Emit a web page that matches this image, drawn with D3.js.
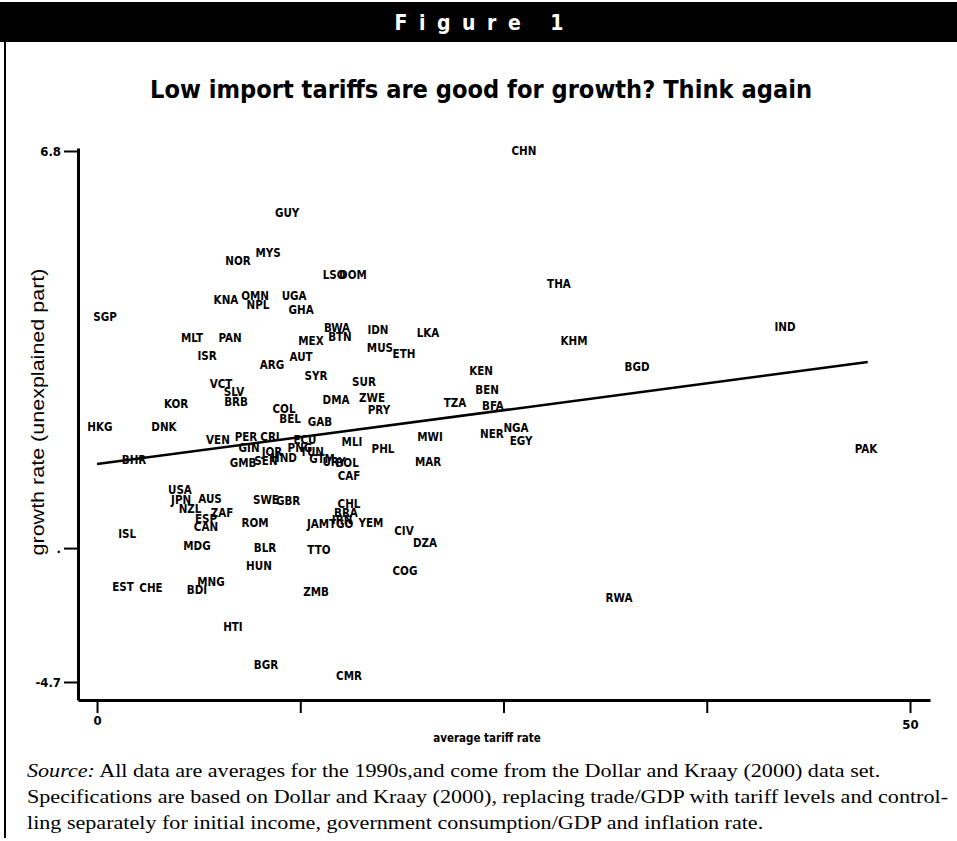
<!DOCTYPE html>
<style>
    body { margin: 0; background: #fff; }
    .lbl { font-family: "DejaVu Sans", sans-serif; font-stretch: condensed; font-weight: bold; font-size: 11.5px; }
    .axis text { font-family: "DejaVu Sans", sans-serif; font-stretch: condensed; font-weight: bold; font-size: 13px; fill: #000; }
</style>
<svg width="957" height="841"></svg>
<script src="https://d3js.org/d3.v7.min.js"></script>
<script>

    // country codes, average tariff rate (%), unexplained growth rate
    var codes = ["CHN","GUY","NOR","MYS","LSO","DOM","THA","KNA","OMN","NPL","UGA","GHA","SGP","MLT","PAN",
        "BWA","BTN","MEX","IDN","LKA","KHM","IND","MUS","ETH","ISR","ARG","AUT","BGD","SYR","KEN","SUR","BEN",
        "VCT","SLV","BRB","KOR","DMA","ZWE","PRY","TZA","BFA","COL","BEL","GAB","HKG","DNK","MLI","PHL","MWI",
        "NER","NGA","EGY","MAR","PAK","VEN","PER","CRI","GIN","JOR","GMB","SEN","HND","ECU","PNG","TUN","GTM",
        "URY","BOL","BHR","CAF","USA","JPN","NZL","AUS","ZAF","ESP","CAN","SWE","GBR","CHL","BRA","IRN","JAM",
        "TGO","YEM","CIV","DZA","ROM","ISL","MDG","BLR","TTO","HUN","COG","EST","CHE","BDI","MNG","ZMB","RWA",
        "HTI","BGR","CMR"];
    var tariff = [26.26,11.69,8.67,10.52,14.58,15.74,28.41,7.93,9.72,9.90,12.12,12.55,0.49,5.84,8.18,
        14.76,14.94,13.16,17.28,20.36,29.34,42.31,17.40,18.88,6.77,10.76,12.55,33.21,13.47,23.62,16.42,23.99,
        7.63,8.43,8.55,4.86,14.70,16.91,17.34,22.02,24.35,11.50,11.87,13.71,0.18,4.12,15.68,17.59,20.48,
        24.29,25.77,26.08,20.36,47.29,7.44,9.16,10.64,9.35,10.76,8.98,10.39,11.50,12.79,12.48,13.22,13.84,
        14.58,15.38,2.28,15.50,5.10,5.17,5.72,6.95,7.69,6.70,6.70,10.39,11.75,15.50,15.31,15.07,13.59,
        15.01,16.85,18.88,20.17,9.72,1.85,6.15,10.33,13.65,9.96,18.94,1.60,3.32,6.15,7.01,13.47,32.10,
        8.36,10.39,15.50];
    var growth = [6.80,5.46,4.42,4.59,4.11,4.11,3.92,3.57,3.66,3.46,3.66,3.36,3.20,2.75,2.75,
        2.97,2.77,2.68,2.92,2.86,2.68,2.99,2.53,2.40,2.36,2.17,2.34,2.12,1.93,2.04,1.80,1.62,
        1.75,1.58,1.36,1.32,1.41,1.45,1.19,1.34,1.28,1.21,1.00,0.93,0.82,0.82,0.50,0.35,0.61,
        0.67,0.80,0.52,0.06,0.35,0.54,0.61,0.61,0.37,0.28,0.04,0.09,0.15,0.54,0.37,0.28,0.13,
        0.06,0.04,0.11,-0.24,-0.54,-0.76,-0.95,-0.74,-1.04,-1.17,-1.34,-0.76,-0.78,-0.85,-1.04,-1.19,-1.28,
        -1.28,-1.26,-1.43,-1.69,-1.26,-1.50,-1.76,-1.80,-1.84,-2.19,-2.30,-2.64,-2.67,-2.71,-2.54,-2.75,-2.88,
        -3.51,-4.33,-4.57];

    // fitted line
    var fitX = [0, 47.4];
    var fitY = [0.02, 2.23];

    var xTicks = [0, 12.5, 25, 37.5, 50];
    var xTickLabels = ["0", "", "", "", "50"];
    var yTicks = [6.8, -1.8, -4.7];
    var yTickLabels = ["6.8", ".", "-4.7"];

    var sourceLines = [
        "All data are averages for the 1990s,and come from the Dollar and Kraay (2000) data set.",
        "Specifications are based on Dollar and Kraay (2000), replacing trade/GDP with tariff levels and control-",
        "ling separately for initial income, government consumption/GDP and inflation rate."
    ];

    var svg = d3.select("svg");

    // header
    svg.append("rect").attr("x", 0).attr("y", 2).attr("width", 957).attr("height", 40).attr("fill", "#000");
    svg.append("line").attr("x1", 5).attr("x2", 5).attr("y1", 40).attr("y2", 838)
        .attr("stroke", "#000").attr("stroke-width", 2);

    svg.append("text")
        .attr("x", 479).attr("y", 30)
        .attr("text-anchor", "middle")
        .attr("fill", "#fff")
        .style("font-family", "'DejaVu Sans', sans-serif")
        .style("font-stretch", "condensed")
        .style("font-weight", "bold")
        .style("font-size", "21px")
        .attr("textLength", 169)
        .attr("lengthAdjust", "spacing")
        .text("Figure 1");

    svg.append("text")
        .attr("x", 481).attr("y", 98)
        .attr("text-anchor", "middle")
        .attr("fill", "#000")
        .style("font-family", "'DejaVu Sans', sans-serif")
        .style("font-stretch", "condensed")
        .style("font-weight", "bold")
        .style("font-size", "24px")
        .attr("textLength", 662)
        .attr("lengthAdjust", "spacingAndGlyphs")
        .text("Low import tariffs are good for growth?  Think again");

    var x = d3.scaleLinear().domain([-1.17, 51.23]).range([78, 930]);
    var y = d3.scaleLinear().domain([-5.09, 6.865]).range([700, 148]);

    var g = svg.append("g");

    var xAxis = g.append("g")
        .attr("class", "axis")
        .attr("transform", "translate(0,700)")
        .call(d3.axisBottom(x).tickValues(xTicks).tickSize(13).tickSizeOuter(0)
            .tickFormat(function(d, i) { return xTickLabels[i]; }));
    xAxis.select(".domain").attr("stroke-width", 3);
    xAxis.selectAll(".tick line").attr("stroke-width", 2);
    xAxis.selectAll(".tick text").filter(function(d) { return d === 50; }).attr("y", 20);

    var yAxis = g.append("g")
        .attr("class", "axis")
        .attr("transform", "translate(78,0)")
        .call(d3.axisLeft(y).tickValues(yTicks).tickSize(14).tickSizeOuter(0)
            .tickFormat(function(d, i) { return yTickLabels[i]; }));
    yAxis.select(".domain").attr("stroke-width", 3);
    yAxis.selectAll(".tick line").attr("stroke-width", 2);

    // axis titles
    svg.append("text")
        .attr("transform", "translate(44,412) rotate(-90)")
        .attr("text-anchor", "middle")
        .style("font-family", "'Liberation Sans', Arial, sans-serif")
        .style("font-size", "19px")
        .attr("textLength", 287)
        .attr("lengthAdjust", "spacingAndGlyphs")
        .text("growth rate (unexplained part)");

    svg.append("text")
        .attr("x", 487).attr("y", 742)
        .attr("text-anchor", "middle")
        .attr("class", "lbl")
        .text("average tariff rate");

    // country labels
    var data = codes.map(function(c, i) { return {code: c, t: tariff[i], gr: growth[i]}; });

    g.append("g").selectAll("text")
        .data(data)
        .enter().append("text")
        .attr("class", "lbl")
        .attr("x", function(d) { return x(d.t); })
        .attr("y", function(d) { return y(d.gr); })
        .attr("dy", "0.35em")
        .attr("text-anchor", "middle")
        .text(function(d) { return d.code; });

    g.append("line")
        .attr("x1", x(fitX[0])).attr("y1", y(fitY[0]))
        .attr("x2", x(fitX[1])).attr("y2", y(fitY[1]))
        .attr("stroke", "#000")
        .attr("stroke-width", 2.5);

    // source note, scaled so the second line spans the box
    var srcText = sourceLines.map(function(line, i) {
        var t = svg.append("text")
            .attr("x", 27).attr("y", 777 + i * 26)
            .style("font-family", "'Liberation Serif', 'DejaVu Serif', serif")
            .style("font-size", "19px")
            .attr("fill", "#000");
        if (i === 0) {
            t.append("tspan").style("font-style", "italic").text("Source:");
            t.append("tspan").text("  " + line);
        } else {
            t.text(line);
        }
        return t;
    });
    var k = 921 / srcText[1].node().getComputedTextLength();
    srcText.forEach(function(t) {
        t.attr("textLength", t.node().getComputedTextLength() * k)
         .attr("lengthAdjust", "spacingAndGlyphs");
    });

</script>
